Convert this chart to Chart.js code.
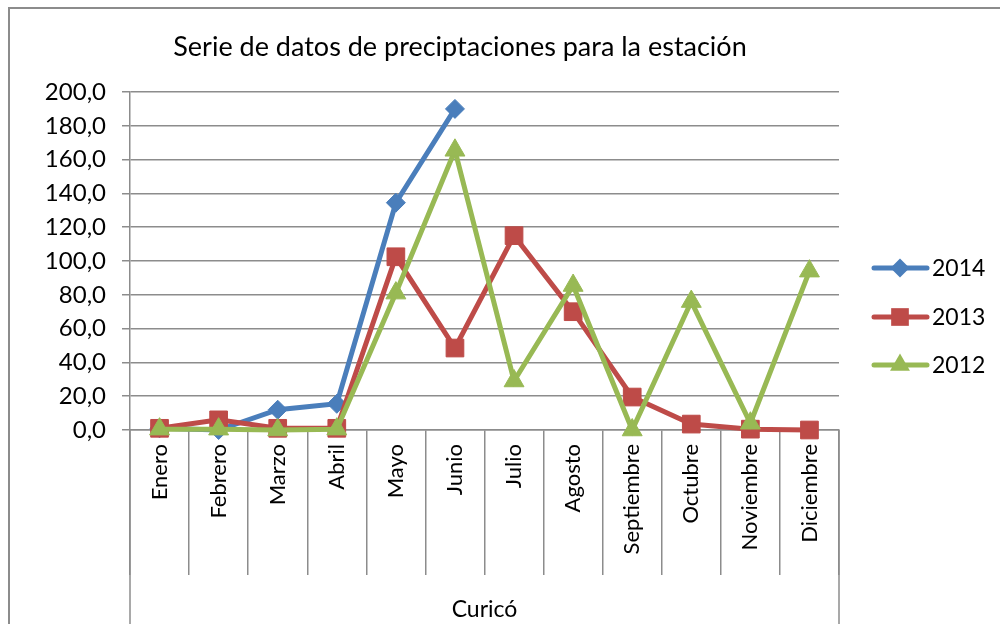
<!DOCTYPE html>
<html>
<head>
<meta charset="utf-8">
<script src="https://cdn.jsdelivr.net/npm/chart.js@4/dist/chart.umd.min.js"></script>
<style>
  html, body { margin: 0; padding: 0; background: #fff; overflow: hidden; }
  #wrap { position: relative; width: 1000px; height: 624px; }
  #frame { position: absolute; left: 8px; top: 7px; width: 1100px; height: 700px;
           border-left: 2px solid #8c8c8c; border-top: 2px solid #8c8c8c; }
  canvas { position: absolute; left: 0; top: 0; }
</style>
</head>
<body>
<div id="wrap">
  <div id="frame"></div>
  <canvas id="rainChart" width="1000" height="624"></canvas>
</div>
<script>
  // Data
  const chartTitle = 'Serie de datos de preciptaciones para la estación';
  const stationName = 'Curicó';
  const months = ['Enero', 'Febrero', 'Marzo', 'Abril', 'Mayo', 'Junio', 'Julio',
                  'Agosto', 'Septiembre', 'Octubre', 'Noviembre', 'Diciembre'];
  const rain2014 = [1.0, 0.0, 12.0, 15.5, 134.5, 190.0, null, null, null, null, null, null];
  const rain2013 = [1.0, 6.0, 1.0, 1.0, 102.5, 48.5, 115.0, 70.0, 19.5, 3.5, 0.5, 0.0];
  const rain2012 = [0.5, 0.5, 0.0, 0.5, 81.0, 165.5, 29.0, 85.5, 0.0, 76.0, 4.0, 94.0];
  const yearLabels = ['2014', '2013', '2012'];

  const BLUE = '#4a7ebb';
  const RED = '#be4b48';
  const GREEN = '#98b954';
  const GRID = '#8c8c8c';
  const FONT = 'Lato, "Open Sans", sans-serif';

  Chart.defaults.font.family = FONT;
  Chart.defaults.color = '#000';

  function series(label, data, color, style, radius, order) {
    return {
      label: label,
      data: data,
      borderColor: color,
      backgroundColor: color,
      borderWidth: 5,
      pointStyle: style,
      pointRadius: radius,
      pointHoverRadius: radius,
      pointBackgroundColor: color,
      pointBorderColor: color,
      pointBorderWidth: 1,
      tension: 0,
      fill: false,
      spanGaps: false,
      clip: false,
      order: order
    };
  }

  // Title drawn by hand so it sits where Excel put it
  const titlePlugin = {
    id: 'excelTitle',
    afterDraw(chart) {
      const ctx = chart.ctx;
      ctx.save();
      ctx.font = '27px ' + FONT;
      ctx.fillStyle = '#000';
      ctx.textAlign = 'center';
      ctx.textBaseline = 'middle';
      ctx.fillText(chartTitle, 460, 47);
      ctx.restore();
    }
  };

  // The two outer group lines run down to the bottom edge
  const groupLines = {
    id: 'groupLines',
    afterDraw(chart) {
      const x = chart.scales.x;
      const ctx = chart.ctx;
      ctx.save();
      ctx.strokeStyle = GRID;
      ctx.lineWidth = 1.5;
      [x.left, x.right].forEach(px => {
        ctx.beginPath();
        ctx.moveTo(px, x.top);
        ctx.lineTo(px, chart.height);
        ctx.stroke();
      });
      ctx.restore();
    }
  };

  // Legend with line + marker like Excel
  function marker(ctx, style, x, y, r) {
    ctx.beginPath();
    if (style === 'rectRot') {
      ctx.moveTo(x, y - r); ctx.lineTo(x + r, y); ctx.lineTo(x, y + r); ctx.lineTo(x - r, y);
    } else if (style === 'rect') {
      const s = r * Math.SQRT1_2;
      ctx.rect(x - s, y - s, 2 * s, 2 * s);
    } else {
      const h = r * Math.sin(Math.PI / 3);
      ctx.moveTo(x, y - r); ctx.lineTo(x + h, y + r / 2); ctx.lineTo(x - h, y + r / 2);
    }
    ctx.closePath();
    ctx.fill();
  }

  const legendPlugin = {
    id: 'excelLegend',
    afterDraw(chart) {
      const ctx = chart.ctx;
      const rows = [268, 317, 365];
      ctx.save();
      chart.data.datasets.forEach((ds, i) => {
        const y = rows[i];
        ctx.strokeStyle = ds.borderColor;
        ctx.fillStyle = ds.borderColor;
        ctx.lineWidth = 5;
        ctx.lineCap = 'round';
        ctx.beginPath();
        ctx.moveTo(874, y);
        ctx.lineTo(927, y);
        ctx.stroke();
        marker(ctx, ds.pointStyle, 900, y, ds.pointRadius);
        ctx.fillStyle = '#000';
        ctx.font = '23px ' + FONT;
        ctx.textAlign = 'left';
        ctx.textBaseline = 'middle';
        ctx.fillText(ds.label, 932, y + 1);
      });
      ctx.restore();
    }
  };

  new Chart(document.getElementById('rainChart'), {
    type: 'line',
    data: {
      labels: months,
      datasets: [
        series(yearLabels[0], rain2014, BLUE, 'rectRot', 9.5, 3),
        series(yearLabels[1], rain2013, RED, 'rect', 12.5, 2),
        series(yearLabels[2], rain2012, GREEN, 'triangle', 11.5, 1)
      ]
    },
    options: {
      responsive: false,
      animation: false,
      layout: { padding: { left: 0, right: 161, top: 92, bottom: 0 } },
      plugins: {
        legend: { display: false },
        title: { display: false },
        tooltip: { enabled: false }
      },
      scales: {
        y: {
          min: 0,
          max: 200,
          ticks: {
            stepSize: 20,
            padding: 16,
            font: { size: 24 },
            callback: v => v.toFixed(1).replace('.', ',')
          },
          grid: { color: GRID, lineWidth: 1.5, tickLength: 8 },
          border: { color: GRID, width: 1.5 },
          afterFit(scale) { scale.width = 130; }
        },
        x: {
          offset: true,
          ticks: {
            autoSkip: false,
            minRotation: 90,
            maxRotation: 90,
            padding: -131,
            font: { size: 22 }
          },
          grid: {
            offset: true,
            drawOnChartArea: false,
            drawTicks: true,
            tickLength: 145,
            color: GRID,
            lineWidth: 1.5
          },
          border: { color: GRID, width: 1.5 },
          title: {
            display: true,
            text: stationName,
            font: { size: 23 },
            padding: { top: 0, bottom: 1 }
          },
          afterFit(scale) { scale.height = 194; }
        }
      }
    },
    plugins: [titlePlugin, groupLines, legendPlugin]
  });
</script>
</body>
</html>
